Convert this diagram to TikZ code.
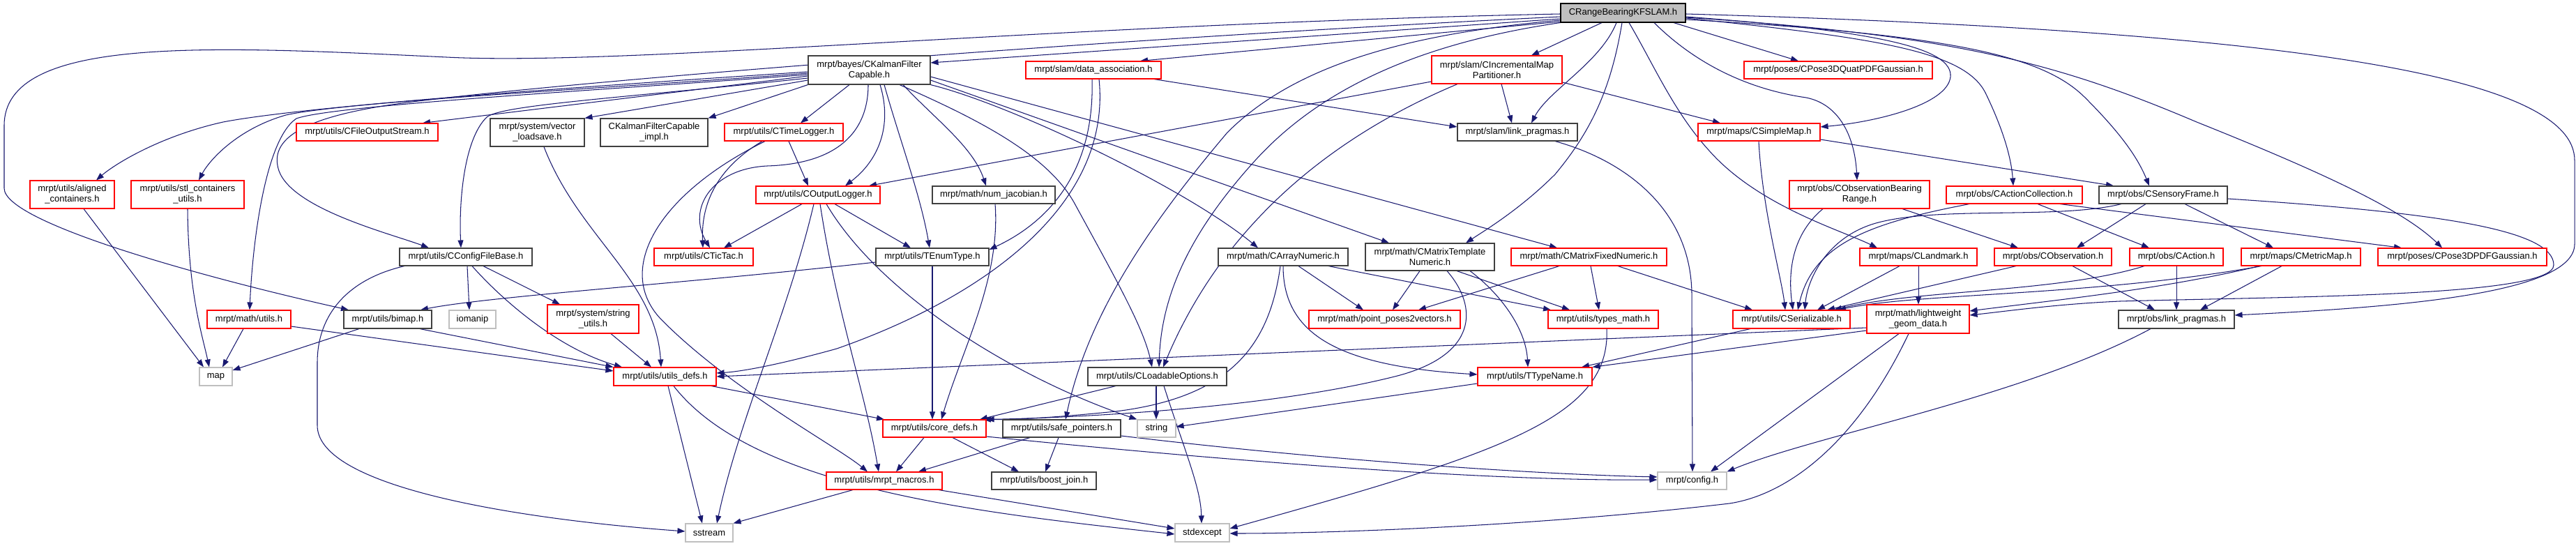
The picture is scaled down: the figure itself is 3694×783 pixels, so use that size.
\documentclass[tikz,border=0pt]{standalone}
\usepackage{fontspec}
\setmainfont{Liberation Sans}
\usetikzlibrary{arrows.meta,backgrounds}
\definecolor{edgec}{HTML}{191970}
\definecolor{redc}{HTML}{FF0000}
\definecolor{grayc}{HTML}{BFBFBF}
\definecolor{darkc}{HTML}{404040}
\newcommand\bx[7]{\node[#1, minimum width=#5pt, minimum height=#6pt] (#2) at (#3,#4) {#7};}
\begin{document}
\begin{tikzpicture}[x=1pt,y=-1pt,
  nb/.style={draw, line width=1.1pt, inner sep=0pt, align=center, font=\fontsize{13}{15}\selectfont, fill=white},
  rb/.style={nb, draw=redc},
  kb/.style={nb, draw=darkc},
  gb/.style={nb, draw=grayc},
  rootb/.style={nb, draw=black, fill=grayc},
  e/.style={draw=edgec, line width=1.05pt, -{Triangle[length=11pt,width=8pt]}}]
\useasboundingbox (0,0) rectangle (3694,783);
% nodes
\bx{rootb}{root}{2327.5}{18.5}{179}{27}{CRangeBearingKFSLAM.h}
\bx{kb}{kfc}{1246.5}{100.5}{175}{41}{mrpt/bayes/CKalmanFilter\\Capable.h}
\bx{rb}{dassoc}{1568}{100.5}{194}{25}{mrpt/slam/data\_association.h}
\bx{rb}{imp}{2146.5}{100}{187}{40}{mrpt/slam/CIncrementalMap\\Partitioner.h}
\bx{rb}{quat}{2636}{100.5}{270}{25}{mrpt/poses/CPose3DQuatPDFGaussian.h}
\bx{rb}{fos}{526.5}{189.5}{203}{25}{mrpt/utils/CFileOutputStream.h}
\bx{kb}{vls}{770.5}{190}{135}{40}{mrpt/system/vector\\\_loadsave.h}
\bx{kb}{kfci}{938}{190}{154}{40}{CKalmanFilterCapable\\\_impl.h}
\bx{rb}{tlog}{1124}{189.5}{170}{25}{mrpt/utils/CTimeLogger.h}
\bx{kb}{slp}{2176}{189.5}{172}{25}{mrpt/slam/link\_pragmas.h}
\bx{rb}{smap}{2522.5}{189.5}{175}{25}{mrpt/maps/CSimpleMap.h}
\bx{rb}{alc}{103.5}{279}{121}{40}{mrpt/utils/aligned\\\_containers.h}
\bx{rb}{stl}{269}{279}{162}{40}{mrpt/utils/stl\_containers\\\_utils.h}
\bx{rb}{olog}{1173}{279.5}{178}{25}{mrpt/utils/COutputLogger.h}
\bx{kb}{numj}{1425}{279.5}{176}{25}{mrpt/math/num\_jacobian.h}
\bx{rb}{obr}{2666.5}{279}{201}{40}{mrpt/obs/CObservationBearing\\Range.h}
\bx{rb}{acol}{2888.5}{279.5}{195}{25}{mrpt/obs/CActionCollection.h}
\bx{kb}{sf}{3102}{279.5}{184}{25}{mrpt/obs/CSensoryFrame.h}
\bx{kb}{cfb}{668}{368.5}{190}{25}{mrpt/utils/CConfigFileBase.h}
\bx{rb}{tictac}{1009}{368.5}{142}{25}{mrpt/utils/CTicTac.h}
\bx{kb}{enum}{1337}{368.5}{162}{25}{mrpt/utils/TEnumType.h}
\bx{kb}{arr}{1840}{368.5}{186}{25}{mrpt/math/CArrayNumeric.h}
\bx{kb}{mtn}{2050.5}{368.5}{185}{39}{mrpt/math/CMatrixTemplate\\Numeric.h}
\bx{rb}{mfn}{2278.5}{368.5}{223}{25}{mrpt/math/CMatrixFixedNumeric.h}
\bx{rb}{lmk}{2751}{368.5}{168}{25}{mrpt/maps/CLandmark.h}
\bx{rb}{obs}{2944}{368.5}{168}{25}{mrpt/obs/CObservation.h}
\bx{rb}{act}{3121}{368.5}{134}{25}{mrpt/obs/CAction.h}
\bx{rb}{mmap}{3299.5}{368.5}{171}{25}{mrpt/maps/CMetricMap.h}
\bx{rb}{p3d}{3531}{368.5}{242}{25}{mrpt/poses/CPose3DPDFGaussian.h}
\bx{rb}{mutils}{357}{458}{120}{26}{mrpt/math/utils.h}
\bx{kb}{bimap}{556}{458}{126}{26}{mrpt/utils/bimap.h}
\bx{gb}{iomanip}{677.5}{458}{67}{26}{iomanip}
\bx{rb}{sutils}{850.5}{457.5}{131}{41}{mrpt/system/string\\\_utils.h}
\bx{rb}{pp2v}{1985.5}{458}{217}{26}{mrpt/math/point\_poses2vectors.h}
\bx{rb}{tmath}{2299}{458}{158}{26}{mrpt/utils/types\_math.h}
\bx{rb}{ser}{2569}{458}{168}{26}{mrpt/utils/CSerializable.h}
\bx{rb}{lw}{2750.5}{457.5}{147}{41}{mrpt/math/lightweight\\\_geom\_data.h}
\bx{kb}{olp}{3121}{458}{166}{26}{mrpt/obs/link\_pragmas.h}
\bx{gb}{map}{309.5}{540}{47}{26}{map}
\bx{rb}{udefs}{953.5}{540}{147}{26}{mrpt/utils/utils\_defs.h}
\bx{kb}{lopt}{1659.5}{540}{199}{26}{mrpt/utils/CLoadableOptions.h}
\bx{rb}{ttn}{2201}{540}{164}{26}{mrpt/utils/TTypeName.h}
\bx{rb}{cdefs}{1340}{614.5}{148}{25}{mrpt/utils/core\_defs.h}
\bx{kb}{sptr}{1522.5}{614.5}{169}{25}{mrpt/utils/safe\_pointers.h}
\bx{gb}{string}{1658.5}{614.5}{55}{25}{string}
\bx{rb}{macros}{1268}{689.5}{166}{25}{mrpt/utils/mrpt\_macros.h}
\bx{kb}{bjoin}{1497}{689.5}{150}{25}{mrpt/utils/boost\_join.h}
\bx{gb}{config}{2426.5}{689.5}{99}{25}{mrpt/config.h}
\bx{gb}{sstream}{1017}{764}{68}{26}{sstream}
\bx{gb}{stdexcept}{1724}{764}{78}{26}{stdexcept}
\begin{scope}[on background layer]
\fill[white] (0,0) rectangle (3694,783);
% root
\draw[e] (root.west |- 0,27) -- (kfc.east |- 0,90);
\draw[e] (root.west |- 0,31) -- (dassoc.north -| 1635,0);
\draw[e] (root.west |- 0,20) .. controls (1500,35) and (900,95) .. (640,82) .. controls (300,66) and (6,50) .. (6,180) -- (6,270) .. controls (6,320) and (300,400) .. (bimap.north -| 500,0);
\draw[e] (root.west |- 0,24) .. controls (1500,60) and (800,120) .. (600,145) .. controls (430,165) and (385,200) .. (400,245) .. controls (420,300) and (560,335) .. (cfb.north -| 615,0);
\draw[e] (root.south -| 2297,0) -- (imp.north -| 2196,0);
\draw[e] (root.south -| 2318,0) .. controls (2295,90) and (2220,130) .. (slp.north -| 2196,0);
\draw[e] (root.south -| 2400,0) -- (quat.north -| 2579,0);
\draw[e] (root.east |- 0,24) .. controls (2700,45) and (2800,70) .. (2797,110) .. controls (2793,150) and (2690,175) .. (smap.east |- 0,182);
\draw[e] (root.south -| 2372,0) .. controls (2440,100) and (2520,130) .. (2590,140) .. controls (2640,150) and (2660,200) .. (obr.north -| 2663,0);
\draw[e] (root.east |- 0,26) .. controls (2700,55) and (2820,75) .. (2848,135) .. controls (2872,185) and (2884,225) .. (acol.north -| 2887,0);
\draw[e] (root.east |- 0,28) .. controls (2800,50) and (2930,80) .. (2990,140) .. controls (3040,190) and (3065,225) .. (sf.north -| 3082,0);
\draw[e] (root.east |- 0,25) .. controls (2800,50) and (2950,90) .. (3150,175) .. controls (3350,255) and (3450,305) .. (p3d.north -| 3502,0);
\draw[e] (root.east |- 0,20) .. controls (3300,45) and (3692,110) .. (3692,230) -- (3692,350) .. controls (3692,420) and (3450,440) .. (olp.east |- 0,452);
\draw[e] (root.south -| 2336,0) .. controls (2370,90) and (2400,160) .. (2450,215) .. controls (2520,295) and (2640,330) .. (lmk.north -| 2692,0);
\draw[e] (root.south -| 2326,0) .. controls (2310,130) and (2280,190) .. (2230,250) .. controls (2180,300) and (2130,330) .. (mtn.north -| 2102,0);
\draw[e] (root.south west) .. controls (2050,60) and (1900,120) .. (1800,230) .. controls (1700,340) and (1665,430) .. (lopt.north -| 1662,0);
\draw[e] (root.west |- 0,29) .. controls (2000,50) and (1850,100) .. (1760,190) .. controls (1650,320) and (1560,450) .. (sptr.north -| 1528,0);
% kfc
\draw[e] (kfc.west |- 0,103) .. controls (900,120) and (450,150) .. (320,175) .. controls (230,195) and (165,235) .. (alc.north -| 138,0);
\draw[e] (kfc.west |- 0,105) .. controls (900,125) and (500,145) .. (410,165) .. controls (340,185) and (300,230) .. (stl.north -| 285,0);
\draw[e] (kfc.west |- 0,107) .. controls (900,127) and (480,150) .. (425,170) .. controls (380,200) and (362,350) .. (mutils.north -| 358,0);
\draw[e] (kfc.west |- 0,109) -- (fos.north -| 606,0);
\draw[e] (kfc.west |- 0,112) .. controls (900,140) and (720,150) .. (698,168) .. controls (665,200) and (658,290) .. (cfb.north -| 661,0);
\draw[e] (kfc.west |- 0,115) -- (vls.north east);
\draw[e] (kfc.south west) -- (kfci.north east);
\draw[e] (kfc.south -| 1218,0) -- (tlog.north -| 1148,0);
\draw[e] (kfc.south -| 1262,0) .. controls (1280,180) and (1260,230) .. (olog.north -| 1212,0);
\draw[e] (kfc.south -| 1245,0) .. controls (1245,190) and (1200,235) .. (1100,238) .. controls (1020,242) and (985,300) .. (tictac.north -| 1018,0);
\draw[e] (kfc.south -| 1268,0) .. controls (1290,200) and (1320,280) .. (enum.north -| 1333,0);
\draw[e] (kfc.south -| 1295,0) .. controls (1340,170) and (1395,210) .. (numj.north -| 1414,0);
\draw[e] (kfc.south -| 1290,0) .. controls (1400,170) and (1500,220) .. (1540,290) .. controls (1600,400) and (1640,470) .. (lopt.north -| 1652,0);
\draw[e] (kfc.south east) .. controls (1450,150) and (1700,270) .. (arr.north -| 1804,0);
\draw[e] (kfc.east |- 0,115) -- (mtn.north -| 1992,0);
\draw[e] (kfc.east |- 0,110) -- (mfn.north -| 2233,0);
% dassoc
\draw[e] (dassoc.south -| 1655,0) -- (slp.west |- 0,182);
\draw[e] (dassoc.south -| 1566,0) .. controls (1570,250) and (1500,320) .. (enum.east |- 0,358);
\draw[e] (dassoc.south -| 1576,0) .. controls (1595,300) and (1400,430) .. (1200,500) .. controls (1110,525) and (1060,533) .. (udefs.east |- 0,535);
% imp
\draw[e] (imp.south -| 2153,0) -- (slp.north -| 2168,0);
\draw[e] (imp.east |- 0,118) -- (smap.north -| 2467,0);
\draw[e] (imp.west |- 0,117) -- (olog.north -| 1246,0);
\draw[e] (imp.south -| 2090,0) .. controls (1900,200) and (1750,330) .. (lopt.north -| 1668,0);
% tlog
\draw[e] (tlog.south -| 1131,0) -- (olog.north -| 1159,0);
\draw[e] (tlog.south -| 1093,0) .. controls (1030,240) and (1005,290) .. (tictac.north -| 1008,0);
\draw[e] (tlog.south -| 1097,0) .. controls (940,280) and (880,390) .. (950,460) .. controls (1050,560) and (1200,640) .. (macros.north -| 1244,0);
% olog
\draw[e] (olog.south -| 1150,0) -- (tictac.north -| 1038,0);
\draw[e] (olog.south -| 1197,0) -- (enum.north -| 1306,0);
\draw[e] (olog.south -| 1185,0) .. controls (1260,420) and (1450,540) .. (string.north west);
\draw[e] (olog.south -| 1167,0) .. controls (1130,450) and (1060,600) .. (sstream.north -| 1028,0);
\draw[e] (olog.south -| 1176,0) .. controls (1200,450) and (1240,560) .. (macros.north -| 1260,0);
% enum, numj
\draw[e] (enum.west |- 0,376) .. controls (1000,405) and (700,425) .. (bimap.north -| 603,0);
\draw[e] (enum.south -| 1337,0) -- (cdefs.north -| 1337,0);
\draw[e] (numj.south -| 1427,0) .. controls (1435,400) and (1380,500) .. (cdefs.north -| 1350,0);
% slp, smap
\draw[e] (slp.south -| 2230,0) .. controls (2330,230) and (2424,300) .. (2426,420) -- (config.north -| 2427,0);
\draw[e] (smap.south -| 2522,0) .. controls (2527,300) and (2555,400) .. (ser.north -| 2560,0);
\draw[e] (smap.east |- 0,200) -- (sf.north -| 3031,0);
% obr, acol
\draw[e] (obr.south -| 2728,0) -- (obs.north -| 2894,0);
\draw[e] (obr.south -| 2614,0) .. controls (2565,340) and (2565,400) .. (ser.north -| 2571,0);
\draw[e] (acol.south -| 2922,0) -- (act.north -| 3082,0);
\draw[e] (acol.south -| 2824,0) .. controls (2680,320) and (2600,350) .. (ser.north -| 2578,0);
\draw[e] (acol.south -| 2954,0) -- (p3d.north -| 3444,0);
% sf
\draw[e] (sf.south -| 3077,0) -- (obs.north -| 2978,0);
\draw[e] (sf.south -| 3133,0) -- (mmap.north -| 3260,0);
\draw[e] (sf.south -| 3042,0) .. controls (2950,315) and (2780,295) .. (2690,320) .. controls (2620,340) and (2592,400) .. (ser.north -| 2588,0);
\draw[e] (sf.east |- 0,285) .. controls (3500,305) and (3662,330) .. (3662,380) .. controls (3662,425) and (3300,425) .. (3040,432) .. controls (2950,436) and (2880,446) .. (lw.east |- 0,452);
% lmk, obs, act, mmap
\draw[e] (lmk.south -| 2724,0) -- (ser.north -| 2606,0);
\draw[e] (lmk.south -| 2751,0) -- (lw.north -| 2751,0);
\draw[e] (obs.south -| 2891,0) -- (ser.north -| 2620,0);
\draw[e] (obs.south -| 2972,0) -- (olp.north -| 3090,0);
\draw[e] (act.south -| 3075,0) .. controls (2950,420) and (2750,415) .. (ser.north -| 2630,0);
\draw[e] (act.south -| 3121,0) -- (olp.north -| 3121,0);
\draw[e] (mmap.south -| 3243,0) .. controls (3000,425) and (2750,420) .. (ser.north -| 2636,0);
\draw[e] (mmap.south -| 3240,0) .. controls (3100,415) and (2950,430) .. (lw.east |- 0,446);
\draw[e] (mmap.south -| 3272,0) -- (olp.north -| 3155,0);
% mfn, mtn, arr
\draw[e] (mfn.south -| 2236,0) -- (pp2v.north -| 2034,0);
\draw[e] (mfn.south -| 2281,0) -- (tmath.north -| 2293,0);
\draw[e] (mfn.south -| 2320,0) -- (ser.north -| 2513,0);
\draw[e] (mtn.south -| 2036,0) -- (pp2v.north -| 1997,0);
\draw[e] (mtn.south -| 2089,0) -- (tmath.north -| 2251,0);
\draw[e] (mtn.south -| 2075,0) .. controls (2120,440) and (2120,510) .. (2000,540) .. controls (1800,590) and (1500,600) .. (cdefs.north east);
\draw[e] (mtn.south -| 2108,0) .. controls (2150,420) and (2188,470) .. (ttn.north -| 2191,0);
\draw[e] (arr.south -| 1862,0) -- (pp2v.north -| 1955,0);
\draw[e] (arr.south -| 1905,0) -- (tmath.north -| 2224,0);
\draw[e] (arr.south -| 1840,0) .. controls (1840,480) and (1920,525) .. (ttn.west |- 0,537);
\draw[e] (arr.south -| 1836,0) .. controls (1820,500) and (1760,570) .. (1600,590) .. controls (1500,600) and (1450,602) .. (cdefs.north -| 1410,0);
% tmath, ser, lw, olp
\draw[e] (tmath.south -| 2304,0) .. controls (2310,600) and (2150,650) .. (stdexcept.east |- 0,758);
\draw[e] (ser.south -| 2510,0) -- (ttn.north -| 2268,0);
\draw[e] (lw.west |- 0,470) -- (udefs.east |- 0,540);
\draw[e] (lw.west |- 0,474) -- (ttn.north east);
\draw[e] (lw.south -| 2723,0) -- (config.north -| 2453,0);
\draw[e] (lw.south -| 2737,0) .. controls (2660,640) and (2560,710) .. (2480,722) .. controls (2200,755) and (1900,765) .. (stdexcept.east |- 0,765);
\draw[e] (olp.south -| 3084,0) .. controls (2900,570) and (2600,625) .. (config.north east);
% udefs, lopt, ttn
\draw[e] (udefs.south -| 1020,0) -- (cdefs.north -| 1268,0);
\draw[e] (udefs.south -| 958,0) -- (sstream.north -| 1007,0);
\draw[e] (udefs.south -| 966,0) .. controls (1080,700) and (1400,735) .. (stdexcept.west |- 0,766);
\draw[e] (lopt.south -| 1600,0) -- (cdefs.north -| 1405,0);
\draw[e] (lopt.south -| 1658,0) -- (string.north -| 1658,0);
\draw[e] (lopt.south -| 1669,0) .. controls (1700,650) and (1722,700) .. (stdexcept.north -| 1723,0);
\draw[e] (ttn.west |- 0,550) -- (string.east |- 0,612);
% cdefs, sptr, macros
\draw[e] (cdefs.south -| 1325,0) -- (macros.north -| 1285,0);
\draw[e] (cdefs.south -| 1366,0) -- (bjoin.north -| 1461,0);
\draw[e] (cdefs.east |- 0,626) .. controls (1800,665) and (2150,690) .. (config.west |- 0,688);
\draw[e] (sptr.south -| 1477,0) -- (macros.north -| 1317,0);
\draw[e] (sptr.south -| 1518,0) -- (bjoin.north -| 1499,0);
\draw[e] (sptr.east |- 0,625) .. controls (1900,660) and (2200,680) .. (config.west |- 0,684);
\draw[e] (macros.south -| 1223,0) -- (sstream.north east);
\draw[e] (macros.south -| 1346,0) -- (stdexcept.west |- 0,758);
% cfb
\draw[e] (cfb.south -| 580,0) .. controls (500,400) and (455,450) .. (455,520) -- (455,610) .. controls (455,700) and (750,745) .. (sstream.west |- 0,762);
\draw[e] (cfb.south -| 670,0) -- (iomanip.north -| 673,0);
\draw[e] (cfb.south -| 677,0) .. controls (720,430) and (800,500) .. (udefs.north -| 892,0);
\draw[e] (cfb.south -| 693,0) -- (sutils.north -| 803,0);
% small ones
\draw[e] (vls.south -| 780,0) .. controls (830,340) and (940,400) .. (udefs.north -| 948,0);
\draw[e] (sutils.south -| 876,0) -- (udefs.north -| 934,0);
\draw[e] (mutils.south -| 349,0) -- (map.north -| 319,0);
\draw[e] (mutils.east |- 0,468) -- (udefs.west |- 0,532);
\draw[e] (bimap.south -| 515,0) -- (map.east |- 0,531);
\draw[e] (bimap.south -| 602,0) -- (udefs.north west);
\draw[e] (alc.south -| 120,0) -- (map.north -| 292,0);
\draw[e] (stl.south -| 269,0) .. controls (270,420) and (290,480) .. (map.north -| 300,0);
\end{scope}
\end{tikzpicture}
\end{document}
